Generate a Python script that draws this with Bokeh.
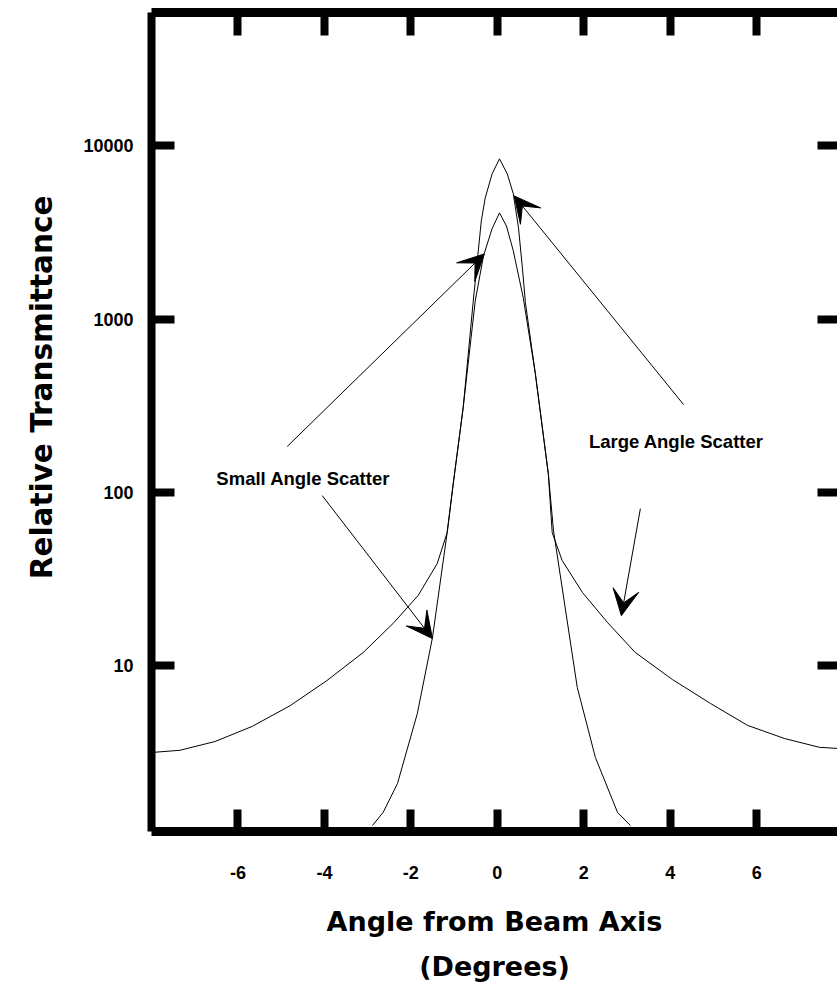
from bokeh.plotting import figure
from bokeh.models import (Arrow, VeeHead, ColumnDataSource, FixedTicker,
                          LinearAxis, LogAxis, Title)
from bokeh.core.properties import value
from bokeh.embed import file_html
from bokeh.resources import INLINE

# ---- data ----
small_x = [-2.89, -2.64, -2.31, -1.85, -1.50, -1.16, -1.02, -0.79, -0.51, -0.32, -0.12,
           0.05, 0.21, 0.37, 0.60, 0.88, 1.18, 1.30, 1.85, 2.27, 2.78, 3.08]
small_y = [1.19, 1.42, 2.08, 5.28, 14.5, 58.5, 112, 308, 1277, 2320, 3330,
           4110, 3460, 2480, 1330, 484, 128, 60, 7.47, 2.94, 1.42, 1.19]

large_x = [-7.96, -7.34, -6.53, -5.67, -4.79, -3.94, -3.10, -2.41, -1.83, -1.39, -1.16,
           -1.02, -0.79, -0.56, -0.44, -0.37, -0.28, -0.12, 0.05, 0.23, 0.37, 0.49,
           0.58, 0.65, 0.88, 1.18, 1.27, 1.50, 1.97, 2.55, 3.19, 4.05, 4.93, 5.79,
           6.64, 7.45, 7.87]
large_y = [3.15, 3.24, 3.64, 4.45, 5.87, 8.19, 11.9, 17.5, 25.4, 38.8, 58.5,
           112, 308, 1245, 2480, 3700, 5010, 6900, 8430, 6900, 5300, 3370,
           1980, 1245, 484, 128, 58.5, 40.4, 26.4, 17.7, 11.9, 8.3, 6.04, 4.51,
           3.79, 3.37, 3.32]

label_text = ["Small Angle Scatter", "Large Angle Scatter"]
label_x = [-4.49, 4.14]
label_y = [120, 196]

arrow_x0 = [-4.86, -4.05, 4.31, 3.31]
arrow_y0 = [184, 95.7, 321, 80.5]
arrow_x1 = [-0.30, -1.50, 0.39, 2.87]
arrow_y1 = [2380, 14.3, 5150, 19.4]

x_ticks = [-6, -4, -2, 0, 2, 4, 6]
x_tick_labels = ["-6", "-4", "-2", "0", "2", "4", "6"]
y_ticks = [10, 100, 1000, 10000]
y_tick_labels = ["10", "100", "1000", "10000"]

x_title = "Angle from Beam Axis\n(Degrees)"
y_title = "Relative Transmittance"

# ---- figure ----
p = figure(width=837, height=989, x_range=(-8, 7.87), y_range=(1.1, 59000),
           y_axis_type="log", output_backend="svg", toolbar_location=None,
           min_border_left=151, min_border_right=0, min_border_top=12,
           min_border_bottom=158)
p.outline_line_color = None
p.xgrid.visible = False
p.ygrid.visible = False
p.background_fill_color = "white"
p.border_fill_color = "white"

tick_font = "Liberation Sans"

# bottom axis
xa = p.xaxis[0]
xa.ticker = FixedTicker(ticks=x_ticks)
xa.major_label_overrides = {t: s for t, s in zip(x_ticks, x_tick_labels)}
xa.axis_line_width = 9
xa.major_tick_in = 22
xa.major_tick_out = 0
xa.major_tick_line_width = 8
xa.minor_tick_line_color = None
xa.major_label_standoff = 34
xa.major_label_text_font = tick_font
xa.major_label_text_font_style = "bold"
xa.major_label_text_font_size = "18px"
xa.major_label_text_color = "black"
xa.axis_label = x_title
xa.axis_label_text_font = "DejaVu Sans"
xa.axis_label_text_font_style = "bold"
xa.axis_label_text_font_size = "27px"
xa.axis_label_text_color = "black"
xa.axis_label_text_line_height = 1.46
xa.axis_label_standoff = 24

# left axis
ya = p.yaxis[0]
ya.ticker = FixedTicker(ticks=y_ticks)
ya.major_label_overrides = {t: s for t, s in zip(y_ticks, y_tick_labels)}
ya.axis_line_width = 8
ya.major_tick_in = 23
ya.major_tick_out = 0
ya.major_tick_line_width = 8
ya.minor_tick_line_color = None
ya.major_label_standoff = 18
ya.major_label_text_font = tick_font
ya.major_label_text_font_style = "bold"
ya.major_label_text_font_size = "18px"
ya.major_label_text_color = "black"

# top axis (frame line + inside ticks, no labels)
ta = LinearAxis(ticker=FixedTicker(ticks=x_ticks))
ta.major_label_overrides = {t: "" for t in x_ticks}
ta.major_label_text_font_size = "0px"
ta.major_label_standoff = 0
ta.axis_line_width = 9
ta.major_tick_in = 23
ta.major_tick_out = 0
ta.major_tick_line_width = 8
ta.minor_tick_line_color = None
p.add_layout(ta, "above")

# right axis (inside ticks only; its line lies beyond the page edge)
ra = LogAxis(ticker=FixedTicker(ticks=y_ticks))
ra.major_label_overrides = {t: "" for t in y_ticks}
ra.major_label_text_font_size = "0px"
ra.major_label_standoff = 0
ra.axis_line_color = None
ra.major_tick_in = 20
ra.major_tick_out = 0
ra.major_tick_line_width = 8
ra.minor_tick_line_color = None
p.add_layout(ra, "right")

# y title (side title, placed off-centre like the reference)
p.add_layout(Title(text=y_title, align="right", offset=183, standoff=44,
                   vertical_align="bottom",
                   text_font="DejaVu Sans", text_font_style="bold",
                   text_font_size="29.5px", text_color="black"), "left")

# curves
p.line(large_x, large_y, line_color="black", line_width=1)
p.line(small_x, small_y, line_color="black", line_width=1)

# arrows
asrc = ColumnDataSource(dict(x0=arrow_x0, y0=arrow_y0, x1=arrow_x1, y1=arrow_y1))
p.add_layout(Arrow(x_start="x0", y_start="y0", x_end="x1", y_end="y1", source=asrc,
                   line_color="black", line_width=1,
                   end=VeeHead(size=26, fill_color="black", line_color="black",
                               line_width=1)))

# annotation labels
lsrc = ColumnDataSource(dict(x=label_x, y=label_y, t=label_text))
p.text(x="x", y="y", text="t", source=lsrc, text_font=value("Liberation Sans"),
       text_font_style="bold", text_font_size="18.5px", text_align="center",
       text_baseline="middle", text_color="black")

open("out.html", "w").write(file_html(p, INLINE))
